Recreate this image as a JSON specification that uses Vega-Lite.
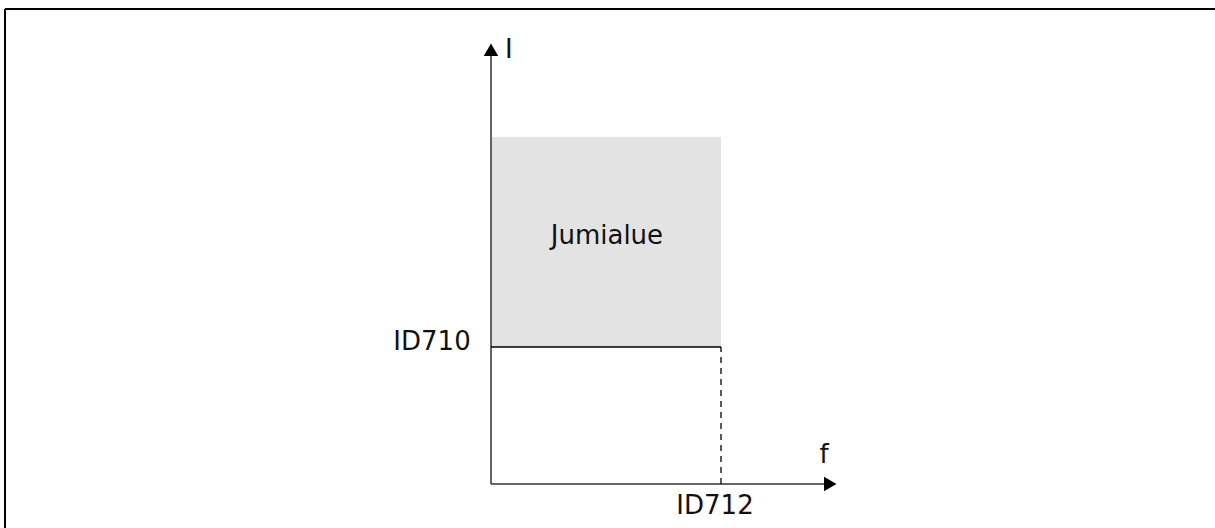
{
  "$schema": "https://vega.github.io/schema/vega-lite/v6.json",
  "width": 1215,
  "height": 528,
  "padding": 0,
  "autosize": "none",
  "background": "white",
  "config": {"view": {"stroke": null}},
  "encoding": {
    "x": {"field": "x", "type": "quantitative", "scale": {"domain": [-2.1348, 3.1478], "nice": false, "zero": false}, "axis": null},
    "y": {"field": "y", "type": "quantitative", "scale": {"domain": [-0.3212, 3.5328], "nice": false, "zero": false}, "axis": null}
  },
  "layer": [
    {
      "data": {"values": [{"x": 0, "x2": 1, "y": 1, "y2": 2.533}]},
      "mark": {"type": "rect", "fill": "#e3e3e3"},
      "encoding": {"x2": {"field": "x2"}, "y2": {"field": "y2"}}
    },
    {
      "data": {"values": [
        {"x": -2.113, "x2": -2.113, "y": -0.5, "y2": 3.467},
        {"x": -2.113, "x2": 3.3, "y": 3.467, "y2": 3.467}
      ]},
      "mark": {"type": "rule", "stroke": "#000000", "strokeWidth": 2, "clip": true},
      "encoding": {"x2": {"field": "x2"}, "y2": {"field": "y2"}}
    },
    {
      "data": {"values": [
        {"x": 0, "x2": 0, "y": 0, "y2": 3.17},
        {"x": 0, "x2": 1.475, "y": 0, "y2": 0}
      ]},
      "mark": {"type": "rule", "stroke": "#333333", "strokeWidth": 1.5},
      "encoding": {"x2": {"field": "x2"}, "y2": {"field": "y2"}}
    },
    {
      "data": {"values": [{"x": 0, "x2": 1, "y": 1, "y2": 1}]},
      "mark": {"type": "rule", "stroke": "#000000", "strokeWidth": 1.3},
      "encoding": {"x2": {"field": "x2"}, "y2": {"field": "y2"}}
    },
    {
      "data": {"values": [{"x": 1, "x2": 1, "y": 0, "y2": 1}]},
      "mark": {"type": "rule", "stroke": "#000000", "strokeWidth": 1.3, "strokeDash": [6, 5]},
      "encoding": {"x2": {"field": "x2"}, "y2": {"field": "y2"}}
    },
    {
      "data": {"values": [{"x": 0, "y": 3.17, "dir": "up"}]},
      "mark": {"type": "point", "shape": "triangle-up", "filled": true, "fill": "#000000", "size": 210, "strokeWidth": 0, "opacity": 1}
    },
    {
      "data": {"values": [{"x": 1.475, "y": 0, "dir": "right"}]},
      "mark": {"type": "point", "shape": "triangle-right", "filled": true, "fill": "#000000", "size": 210, "strokeWidth": 0, "opacity": 1}
    },
    {
      "data": {"values": [
        {"x": 0.078, "y": 3.168, "label": "I"},
        {"x": 1.448, "y": 0.212, "label": "f"},
        {"x": -0.2565, "y": 1.036, "label": "ID710"},
        {"x": 0.974, "y": -0.16, "label": "ID712"},
        {"x": 0.504, "y": 1.81, "label": "Jumialue"}
      ]},
      "mark": {"type": "text", "font": "DejaVu Sans", "fontSize": 26, "color": "#111111", "align": "center", "baseline": "middle"},
      "encoding": {"text": {"field": "label"}}
    }
  ]
}
